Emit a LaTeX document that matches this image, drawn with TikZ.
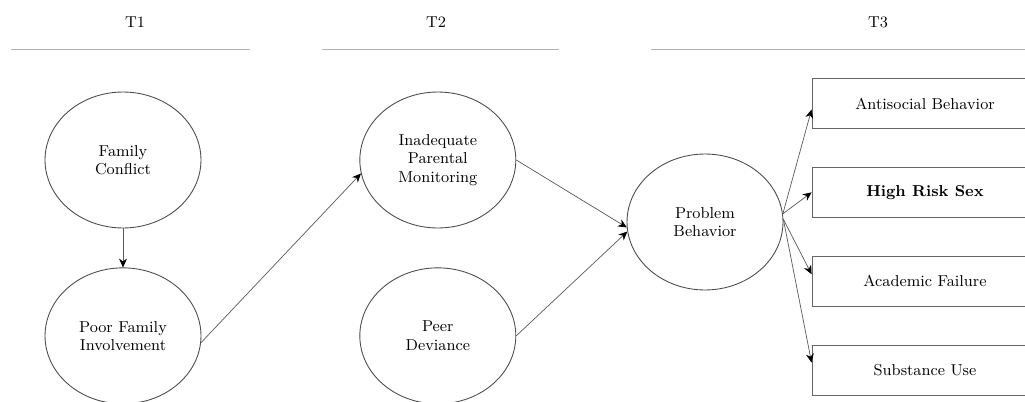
\documentclass[tikz,border=0pt]{standalone}
\usetikzlibrary{arrows.meta, positioning, shapes.geometric}
\tikzset{
  construct/.style={
    ellipse, draw=black!70, line width=0.5pt, minimum width=3.12cm, minimum height=2.72cm,
    align=center, inner sep=0pt
  },
  indicator/.style={
    rectangle, draw=black!60, line width=0.5pt, minimum width=4.52cm, minimum height=1cm,
    text centered
  },
  arrow/.style={
    -{Stealth[length=5pt, width=4.5pt, color=black]}, line width=0.4pt, draw=black!65
  },
  timerule/.style={
    line width=0.4pt, color=gray!60
  }
}
\begin{document}
\begin{tikzpicture}[x=0.02cm, y=-0.02cm, node distance=0.78cm and 3.16cm, every node/.style={font=\fontsize{9}{10.5}\selectfont}]
    \path[use as bounding box, clip] (0,0) rectangle (1025,402);

    % Time points
    \node (t1) at (135,22) {T1};
    \node (t2) at (436,22) {T2};
    \node (t3) at (878,22) {T3};
    \draw[timerule] (11,49) -- (250,49);
    \draw[timerule] (322,49) -- (559,49);
    \draw[timerule] (651,49) -- (1025,49);

    % Constructs
    \node[construct] (fc) at (123,160) {Family\\Conflict};
    \node[construct, below=of fc] (pfi) {Poor Family\\Involvement};
    \node[construct, right=of fc] (ipm) {Inadequate\\Parental\\Monitoring};
    \node[construct, below=of ipm] (pd) {Peer\\Deviance};
    \node[construct] (pb) at (705,222) {Problem\\Behavior};

    % Outcomes
    \node[indicator] (asb) at (925,103.5) {Antisocial Behavior};
    \node[indicator, below=0.76cm of asb] (hrs) {\textbf{High Risk Sex}};
    \node[indicator, below=0.76cm of hrs] (acf) {Academic Failure};
    \node[indicator, below=0.76cm of acf] (sub) {Substance Use};

    % Paths
    \draw[arrow] (fc) -- (pfi);
    \draw[arrow] (pfi.-5) -- (ipm.190);
    \draw[arrow] (ipm.east) -- (pb.184);
    \draw[arrow] (pd.east) -- (pb.187);
    \draw[arrow] (pb.6) -- ([yshift=-0.12cm]asb.west);
    \draw[arrow] (pb.6) -- (hrs.west);
    \draw[arrow] (pb.2) -- ([yshift=0.14cm]acf.west);
    \draw[arrow] (pb.2) -- ([yshift=0.15cm]sub.west);

\end{tikzpicture}
\end{document}
